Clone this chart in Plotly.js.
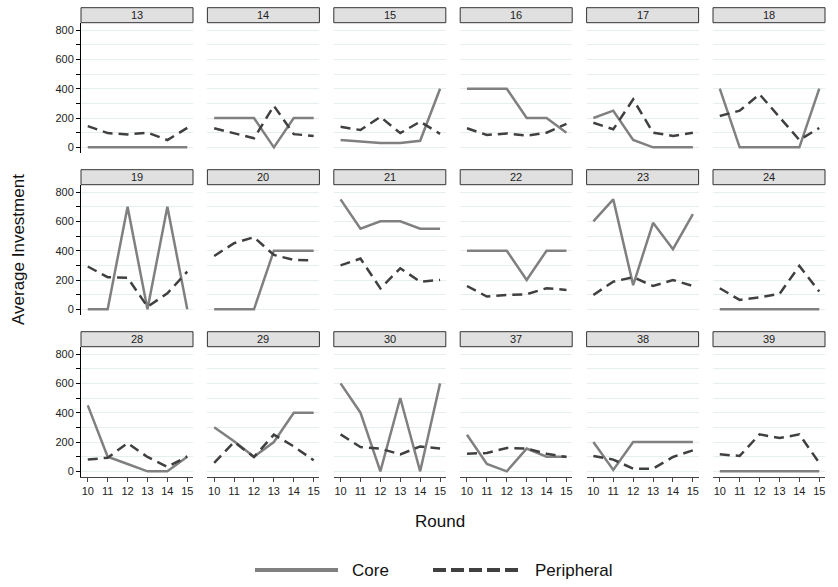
<!DOCTYPE html>
<html>
<head>
<meta charset="utf-8">
<script src="https://cdn.plot.ly/plotly-3.0.1.min.js"></script>
<style>
  html, body { margin: 0; padding: 0; background: #fff; overflow: hidden; }
  #chart { width: 838px; height: 587px; display: block; }
</style>
</head>
<body>
<div id="chart"></div>
<script>
// Groups shown as facets, in reading order (6 per row)
const groups = [13, 14, 15, 16, 17, 18, 19, 20, 21, 22, 23, 24, 28, 29, 30, 37, 38, 39];
const rounds = [10, 11, 12, 13, 14, 15];
const yTicks = [0, 200, 400, 600, 800];

// Average investment of core members, one row per group, rounds 10..15
const coreInvestment = [
  [0, 0, 0, 0, 0, 0],
  [200, 200, 200, 0, 200, 200],
  [50, 40, 30, 30, 45, 400],
  [400, 400, 400, 200, 200, 100],
  [200, 250, 50, 0, 0, 0],
  [400, 0, 0, 0, 0, 400],
  [0, 0, 700, 0, 700, 0],
  [0, 0, 0, 400, 400, 400],
  [750, 550, 600, 600, 550, 550],
  [400, 400, 400, 200, 400, 400],
  [600, 750, 165, 590, 410, 650],
  [0, 0, 0, 0, 0, 0],
  [450, 100, 50, 0, 0, 100],
  [300, 205, 100, 200, 400, 400],
  [600, 400, 0, 500, 0, 600],
  [250, 50, 0, 155, 100, 100],
  [200, 10, 200, 200, 200, 200],
  [0, 0, 0, 0, 0, 0]
];

// Average investment of peripheral members, same layout
const peripheralInvestment = [
  [145, 97, 88, 100, 50, 133],
  [130, 98, 62, 283, 90, 78],
  [140, 118, 208, 97, 175, 92],
  [130, 84, 95, 80, 100, 160],
  [168, 123, 327, 100, 78, 100],
  [214, 250, 362, 208, 50, 132],
  [292, 219, 216, 18, 109, 257],
  [364, 451, 492, 371, 337, 333],
  [300, 346, 143, 280, 189, 200],
  [159, 87, 98, 103, 144, 132],
  [98, 189, 219, 159, 200, 159],
  [144, 64, 82, 105, 296, 121],
  [80, 93, 193, 98, 30, 102],
  [57, 200, 98, 250, 170, 75],
  [252, 166, 155, 116, 170, 155],
  [120, 125, 159, 155, 120, 98],
  [105, 80, 18, 18, 98, 143],
  [116, 105, 252, 227, 252, 57]
];

const W = 838, H = 587;
const FONT = 'Liberation Sans, Arial, sans-serif';
const CORE_COLOR = '#808080';
const PERI_COLOR = '#404040';
const GRID = '#e7eeee';

// facet geometry in pixels; the grid stops short of the right page edge
// so the last round label of the right-hand column has room
const colLeft = [81, 207.4, 333.8, 460.2, 586.6, 713];
const panelW = 112;
const rowTop = [22.7, 184.7, 346.7];
const panelH = 130.5;
const stripH = 15;
const xPerRound = 19.9;
const xStart = 9.66;

const px = v => v / W;
const py = v => 1 - v / H;

const traces = [];
const layout = {
  width: W, height: H,
  margin: { l: 0, r: 0, t: 0, b: 0 },
  paper_bgcolor: '#fff', plot_bgcolor: '#fff',
  showlegend: false,
  font: { family: FONT, color: '#222' },
  shapes: [], annotations: []
};

groups.forEach((g, i) => {
  const r = Math.floor(i / 6), c = i % 6;
  const sfx = i === 0 ? '' : String(i + 1);
  const xa = 'x' + sfx, ya = 'y' + sfx;
  const left = colLeft[c], right = left + panelW;
  const top = rowTop[r], bottom = top + panelH;
  const bottomRow = r === 2, firstCol = c === 0;

  traces.push({
    x: rounds, y: coreInvestment[i], xaxis: xa, yaxis: ya,
    type: 'scatter', mode: 'lines', name: 'Core',
    line: { color: CORE_COLOR, width: 2.5 }, hoverinfo: 'skip'
  });
  traces.push({
    x: rounds, y: peripheralInvestment[i], xaxis: xa, yaxis: ya,
    type: 'scatter', mode: 'lines', name: 'Peripheral',
    line: { color: PERI_COLOR, width: 2.5, dash: '10px,6px' }, hoverinfo: 'skip'
  });

  layout['xaxis' + sfx] = {
    domain: [px(left), px(right)], anchor: ya,
    range: [xStart, xStart + panelW / xPerRound],
    showgrid: false, zeroline: false,
    showline: bottomRow, linecolor: '#444', linewidth: 1,
    tickmode: 'array', tickvals: rounds, ticktext: rounds.map(String),
    ticks: bottomRow ? 'outside' : '', ticklen: 4, tickcolor: '#444',
    showticklabels: bottomRow, ticklabeloverflow: 'allow',
    tickfont: { size: 11, color: '#222', family: FONT },
    fixedrange: true
  };
  layout['yaxis' + sfx] = {
    domain: [py(bottom), py(top)], anchor: xa,
    range: [-40, 850],
    showgrid: true, gridcolor: GRID, gridwidth: 1, zeroline: false,
    tickmode: 'array', tickvals: yTicks, ticktext: yTicks.map(String),
    minor: { dtick: 100, tick0: 0, showgrid: true, gridcolor: GRID, gridwidth: 1,
             ticks: firstCol ? 'outside' : '', ticklen: 4, tickcolor: '#000' },
    showline: firstCol, linecolor: '#000', linewidth: 1,
    ticks: firstCol ? 'outside' : '', ticklen: 4, tickcolor: '#000',
    showticklabels: firstCol, tickfont: { size: 11, color: '#222', family: FONT },
    fixedrange: true
  };

  // facet strip
  layout.shapes.push({
    type: 'rect', xref: 'paper', yref: 'paper',
    x0: px(left), x1: px(right), y0: py(top), y1: py(top - stripH),
    fillcolor: '#e0e0e0', line: { color: '#333', width: 1 }, layer: 'above'
  });
  layout.annotations.push({
    xref: 'paper', yref: 'paper', x: px((left + right) / 2), y: py(top - stripH / 2),
    text: String(g), showarrow: false, xanchor: 'center', yanchor: 'middle',
    font: { size: 11, color: '#222', family: FONT }
  });
});

// axis titles
layout.annotations.push({
  xref: 'paper', yref: 'paper', x: px(18), y: py(250), text: 'Average Investment',
  textangle: -90, showarrow: false, xanchor: 'center', yanchor: 'middle',
  font: { size: 17, color: '#111', family: FONT }
});
layout.annotations.push({
  xref: 'paper', yref: 'paper', x: px(440), y: py(521), text: 'Round',
  showarrow: false, xanchor: 'center', yanchor: 'middle',
  font: { size: 17, color: '#111', family: FONT }
});

// legend drawn below the facets
const legendY = 570;
layout.shapes.push({
  type: 'line', xref: 'paper', yref: 'paper',
  x0: px(255), x1: px(338), y0: py(legendY), y1: py(legendY),
  line: { color: CORE_COLOR, width: 4 }
});
layout.shapes.push({
  type: 'line', xref: 'paper', yref: 'paper',
  x0: px(433), x1: px(520), y0: py(legendY), y1: py(legendY),
  line: { color: PERI_COLOR, width: 4, dash: '13px,5px' }
});
layout.annotations.push({
  xref: 'paper', yref: 'paper', x: px(350), y: py(legendY), text: 'Core',
  showarrow: false, xanchor: 'left', yanchor: 'middle',
  font: { size: 17, color: '#111', family: FONT }
});
layout.annotations.push({
  xref: 'paper', yref: 'paper', x: px(533), y: py(legendY), text: 'Peripheral',
  showarrow: false, xanchor: 'left', yanchor: 'middle',
  font: { size: 17, color: '#111', family: FONT }
});

Plotly.newPlot('chart', traces, layout, { staticPlot: true, displayModeBar: false });
</script>
</body>
</html>
